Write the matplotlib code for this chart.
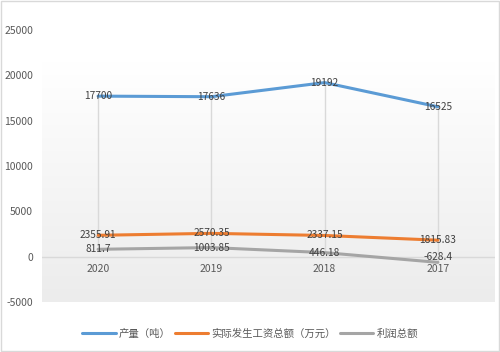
import numpy as np
import matplotlib.pyplot as plt
from matplotlib.patches import Rectangle

plt.rcParams['font.family'] = ['Noto Sans CJK SC', 'DejaVu Sans']

years = ["2020", "2019", "2018", "2017"]
output_t = [17700, 17636, 19192, 16525]
wages = [2355.91, 2570.35, 2337.15, 1815.83]
profit = [811.7, 1003.85, 446.18, -628.4]
names = ["产量（吨）", "实际发生工资总额（万元）", "利润总额"]
colors = ["#5b9bd5", "#ed7d31", "#a5a5a5"]
yticks = [-5000, 0, 5000, 10000, 15000, 20000, 25000]

fig = plt.figure(figsize=(5, 3.52), dpi=100)
ax = fig.add_axes([0.083, 0.142, 0.906, 0.773])
x = np.arange(len(years))

# plot area gradient
grad = np.linspace(0, 1, 256).reshape(-1, 1)
ax.imshow(grad, extent=[-0.5, 3.5, -5000, 21400], aspect='auto',
          cmap=plt.matplotlib.colors.LinearSegmentedColormap.from_list(
              'g', ['#ececec', '#ffffff']), origin='lower', zorder=0)

# high-low lines
series = [output_t, wages, profit]
hi = np.max(series, axis=0)
lo = np.min(series, axis=0)
ax.vlines(x, lo, hi, color='#d9d9d9', lw=1, zorder=1)

for vals, name, c in zip(series, names, colors):
    ax.plot(x, vals, color=c, lw=2.2, label=name, zorder=3, solid_capstyle='round')
    for xi, v in zip(x, vals):
        dy = 600 if v < 0 else 0
        ax.text(xi, v + dy, f"{v:g}", ha='center', va='center',
                fontsize=7.3, color='#404040', zorder=4)

ax.axhline(0, color='#d9d9d9', lw=1, zorder=1)
ax.set_xlim(-0.5, 3.5)
ax.set_ylim(-5000, 25000)
ax.set_yticks(yticks)
ax.set_yticklabels([str(t) for t in yticks])
ax.tick_params(axis='y', length=0, pad=6, labelsize=7.5, labelcolor='#595959')
ax.set_xticks([])
for xi, yr in zip(x, years):
    ax.text(xi, -1400, yr, ha='center', va='center', fontsize=7.5, color='#595959')
for s in ax.spines.values():
    s.set_visible(False)

fig.legend(loc='center', bbox_to_anchor=(0.5, 0.052), ncol=3, frameon=False,
           fontsize=7.5, labelcolor='#595959', handlelength=3.2,
           columnspacing=0.4, handletextpad=0.3)

fig.patches.append(Rectangle((0.002, 0.003), 0.995, 0.993, transform=fig.transFigure,
                             fill=False, edgecolor='#d9d9d9', lw=1))

fig.savefig("out.png", dpi=100)
